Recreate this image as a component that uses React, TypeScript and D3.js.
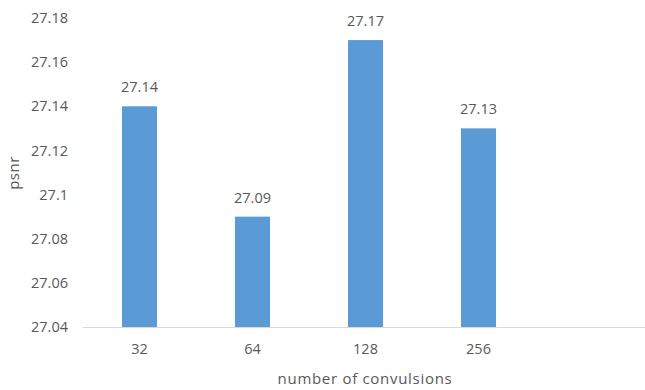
import React from "react";
import * as d3 from "d3";

const categories = ["32", "64", "128", "256", ""];
const psnrValues = [27.14, 27.09, 27.17, 27.13, null];
const yTicks = [27.04, 27.06, 27.08, 27.1, 27.12, 27.14, 27.16, 27.18];

const W = 645;
const H = 390;
const FONT = "'Open Sans', sans-serif";
const TEXT = "#595959";
const FS = 14.5;

export default function App() {
  const x = d3.scaleBand<string>().domain(categories.map((c, i) => `${i}`)).range([83, 648]);
  const y = d3.scaleLinear().domain([27.04, 27.18]).range([327, 18]);
  const barW = x.bandwidth() * 0.31;

  return (
    <svg
      width={W}
      height={H}
      style={{ position: "absolute", left: 0, top: 0, background: "#fff", fontFamily: FONT }}
    >
      {yTicks.map((t) => (
        <text key={t} x={68} y={y(t)} dy="0.35em" textAnchor="end" fontSize={FS} fill={TEXT}>
          {d3.format("")(+t.toFixed(2))}
        </text>
      ))}
      {psnrValues.map((v, i) => {
        if (v == null) return null;
        const cx = (x(`${i}`) as number) + x.bandwidth() / 2;
        return (
          <g key={i}>
            <rect x={cx - barW / 2} y={y(v)} width={barW} height={y(27.04) - y(v)} fill="#5B9BD5" />
            <text x={cx} y={y(v) - 14} textAnchor="middle" fontSize={FS} fill={TEXT}>
              {v.toFixed(2)}
            </text>
          </g>
        );
      })}
      <line x1={83} x2={648} y1={y(27.04) + 0.5} y2={y(27.04) + 0.5} stroke="#D9D9D9" strokeWidth={1} />
      {categories.map((c, i) => (
        <text
          key={i}
          x={(x(`${i}`) as number) + x.bandwidth() / 2}
          y={349}
          dy="0.35em"
          textAnchor="middle"
          fontSize={FS}
          fill={TEXT}
        >
          {c}
        </text>
      ))}
      <text
        x={365}
        y={379}
        dy="0.35em"
        textAnchor="middle"
        fontSize={15}
        letterSpacing={0.7}
        fill={TEXT}
      >
        number of convulsions
      </text>
      <text
        transform="translate(14,173) rotate(-90)"
        dy="0.35em"
        textAnchor="middle"
        fontSize={15}
        letterSpacing={0.5}
        fill={TEXT}
      >
        psnr
      </text>
    </svg>
  );
}
